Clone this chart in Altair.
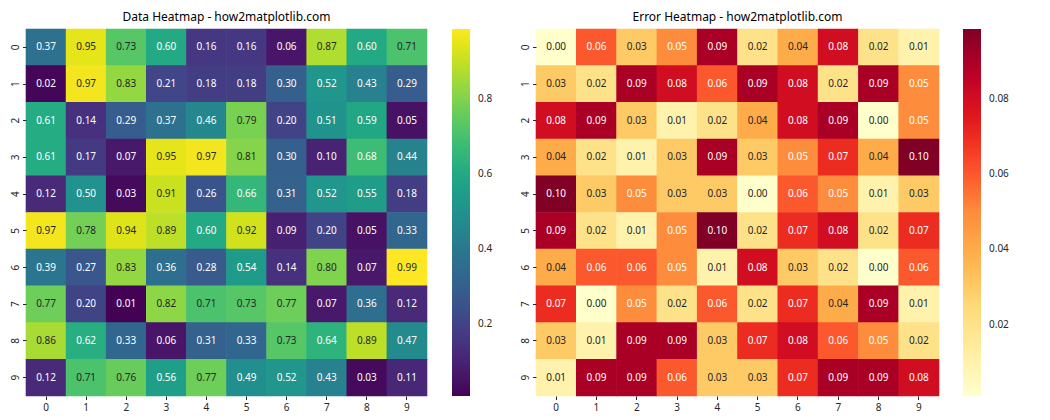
import altair as alt
import pandas as pd

rows = list(range(10))
cols = list(range(10))

data_values = [
    [0.37, 0.95, 0.73, 0.60, 0.16, 0.16, 0.06, 0.87, 0.60, 0.71],
    [0.02, 0.97, 0.83, 0.21, 0.18, 0.18, 0.30, 0.52, 0.43, 0.29],
    [0.61, 0.14, 0.29, 0.37, 0.46, 0.79, 0.20, 0.51, 0.59, 0.05],
    [0.61, 0.17, 0.07, 0.95, 0.97, 0.81, 0.30, 0.10, 0.68, 0.44],
    [0.12, 0.50, 0.03, 0.91, 0.26, 0.66, 0.31, 0.52, 0.55, 0.18],
    [0.97, 0.78, 0.94, 0.89, 0.60, 0.92, 0.09, 0.20, 0.05, 0.33],
    [0.39, 0.27, 0.83, 0.36, 0.28, 0.54, 0.14, 0.80, 0.07, 0.99],
    [0.77, 0.20, 0.01, 0.82, 0.71, 0.73, 0.77, 0.07, 0.36, 0.12],
    [0.86, 0.62, 0.33, 0.06, 0.31, 0.33, 0.73, 0.64, 0.89, 0.47],
    [0.12, 0.71, 0.76, 0.56, 0.77, 0.49, 0.52, 0.43, 0.03, 0.11],
]

error_values = [
    [0.00, 0.06, 0.03, 0.05, 0.09, 0.02, 0.04, 0.08, 0.02, 0.01],
    [0.03, 0.02, 0.09, 0.08, 0.06, 0.09, 0.08, 0.02, 0.09, 0.05],
    [0.08, 0.09, 0.03, 0.01, 0.02, 0.04, 0.08, 0.09, 0.00, 0.05],
    [0.04, 0.02, 0.01, 0.03, 0.09, 0.03, 0.05, 0.07, 0.04, 0.10],
    [0.10, 0.03, 0.05, 0.03, 0.03, 0.00, 0.06, 0.05, 0.01, 0.03],
    [0.09, 0.02, 0.01, 0.05, 0.10, 0.02, 0.07, 0.08, 0.02, 0.07],
    [0.04, 0.06, 0.06, 0.05, 0.01, 0.08, 0.03, 0.02, 0.00, 0.06],
    [0.07, 0.00, 0.05, 0.02, 0.06, 0.02, 0.07, 0.04, 0.09, 0.01],
    [0.03, 0.01, 0.09, 0.09, 0.03, 0.07, 0.08, 0.06, 0.05, 0.02],
    [0.01, 0.09, 0.09, 0.06, 0.03, 0.03, 0.07, 0.09, 0.09, 0.08],
]

data_ticks = [0.2, 0.4, 0.6, 0.8]
error_ticks = [0.02, 0.04, 0.06, 0.08]

# matplotlib YlOrRd anchor colours (ColorBrewer 9-class)
ylorrd = ["#ffffcc", "#ffeda0", "#fed976", "#feb24c", "#fd8d3c",
          "#fc4e2a", "#e31a1c", "#bd0026", "#800026"]

FONT = "Noto Sans"
DARK = "#262626"


def to_long(matrix):
    recs = []
    for r in rows:
        for c in cols:
            v = matrix[r][c]
            recs.append({"row": r, "col": c, "value": v, "label": f"{v:.2f}"})
    return pd.DataFrame(recs)


def heatmap(df, title, scale, ticks, fmt, dark_expr, width, offset):
    base = alt.Chart(df).encode(
        x=alt.X("col:O", title=None, sort=cols,
                axis=alt.Axis(labelAngle=0, domain=False, tickSize=3.5,
                              tickColor=DARK, labelColor=DARK, labelPadding=3,
                              labelFontSize=10, labelFont=FONT)),
        y=alt.Y("row:O", title=None, sort=rows,
                axis=alt.Axis(labelAngle=-90, domain=False, tickSize=3.5,
                              tickColor=DARK, labelColor=DARK, labelPadding=2,
                              labelFontSize=10, labelFont=FONT,
                              labelAlign="center", labelBaseline="bottom")),
    )
    rect = base.mark_rect(width={"band": 1.015}, height={"band": 1.02}).encode(
        color=alt.Color("value:Q", scale=scale,
                        legend=alt.Legend(title=None, values=ticks, format=fmt,
                                          gradientLength=367, gradientThickness=18,
                                          gradientStrokeWidth=0, offset=offset,
                                          labelFontSize=10, labelFont=FONT,
                                          labelColor=DARK, labelOffset=8,
                                          labelOverlap=False)),
    )
    text = base.mark_text(fontSize=10, font=FONT, baseline="middle").encode(
        text="label:N",
        color=alt.condition(dark_expr, alt.value(DARK), alt.value("white")),
    )
    return (rect + text).properties(
        width=width, height=367,
        title=alt.TitleParams(title, fontSize=12, font=FONT, fontWeight="normal",
                              color="black", offset=5),
    )


lo_e, hi_e = 0.001, 0.0986
err_domain = [lo_e + (hi_e - lo_e) * i / 8 for i in range(9)]

left = heatmap(to_long(data_values), "Data Heatmap - how2matplotlib.com",
               alt.Scale(scheme="viridis", domain=[0.007, 0.987], clamp=True),
               data_ticks, ".1f", "datum.value >= 0.695", 401, 25)
right = heatmap(to_long(error_values), "Error Heatmap - how2matplotlib.com",
                alt.Scale(domain=err_domain, range=ylorrd, clamp=True, interpolate="rgb"),
                error_ticks, ".2f", "datum.value < 0.045", 403, 24)

chart = alt.hconcat(left, right, spacing=27).resolve_scale(
    color="independent"
).properties(
    padding={"left": 2, "top": 2, "right": 5, "bottom": 0}
).configure_view(stroke=None)

chart.save("out.html", embed_options={"renderer": "svg", "actions": False})
